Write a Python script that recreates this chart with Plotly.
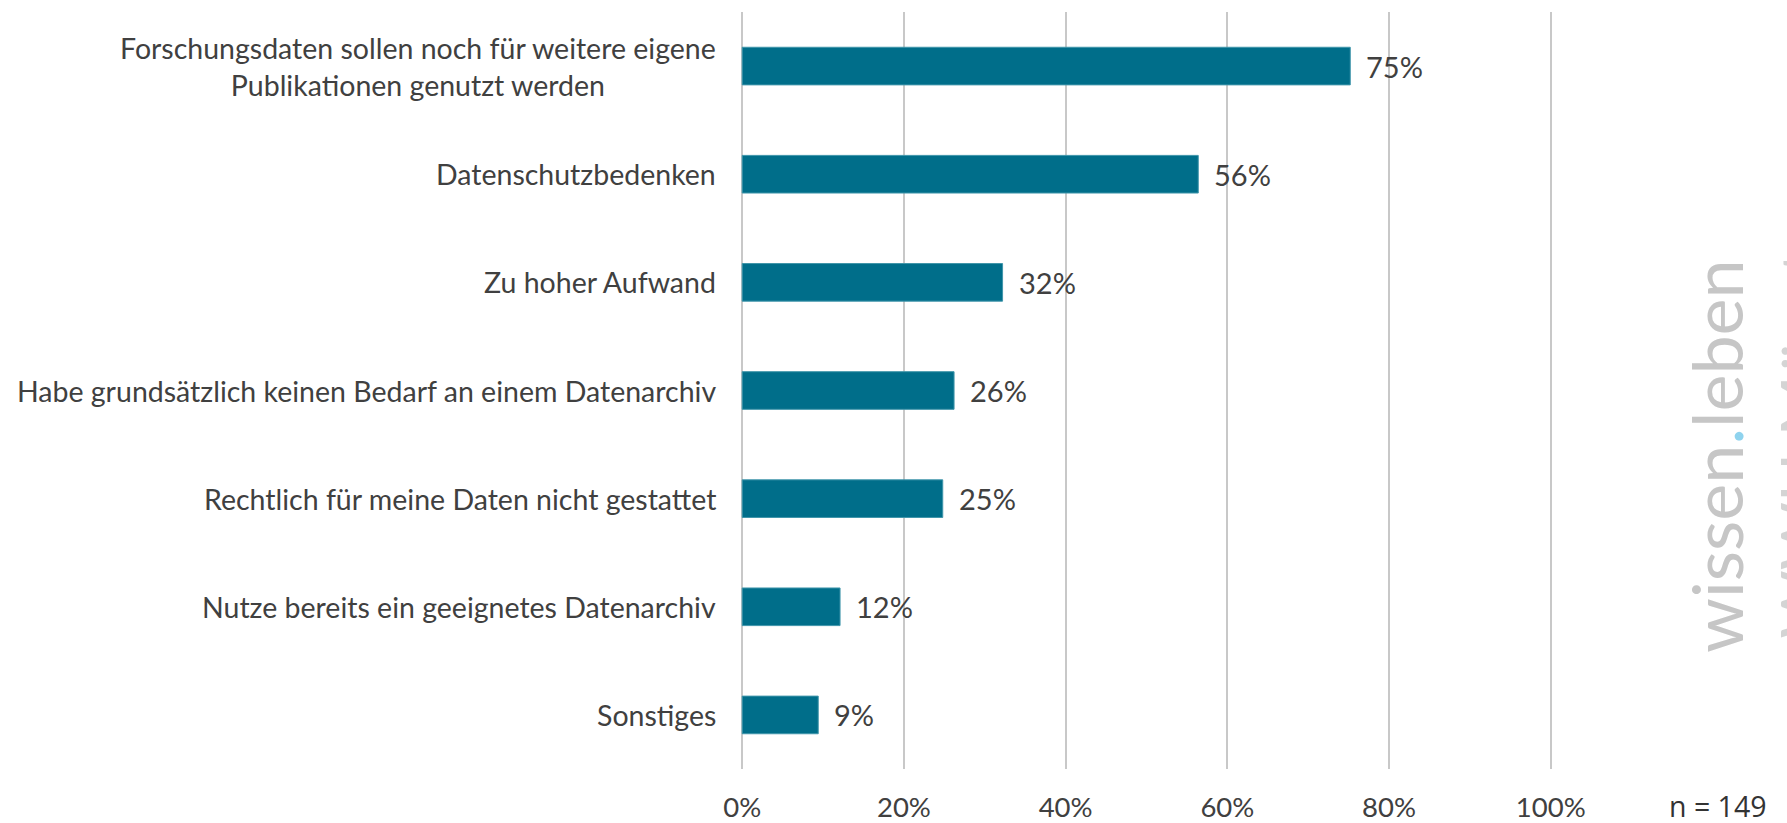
import plotly.graph_objects as go

categories = [
    "Forschungsdaten sollen noch für weitere eigene<br>Publikationen genutzt werden",
    "Datenschutzbedenken",
    "Zu hoher Aufwand",
    "Habe grundsätzlich keinen Bedarf an einem Datenarchiv",
    "Rechtlich für meine Daten nicht gestattet",
    "Nutze bereits ein geeignetes Datenarchiv",
    "Sonstiges",
]
values = [75.2, 56.4, 32.2, 26.2, 24.8, 12.1, 9.4]
value_labels = ["75%", "56%", "32%", "26%", "25%", "12%", "9%"]
tick_vals = [0, 20, 40, 60, 80, 100]
tick_text = ["0%", "20%", "40%", "60%", "80%", "100%"]
sample_note = "n = 149"

FONT = "Lato"
TXT = "#404040"
BAR = "#006e8a"
GRID = "#c8c8c8"

fig = go.Figure()
fig.add_trace(go.Bar(
    y=categories, x=values, orientation="h",
    marker=dict(color=BAR, line=dict(color="#3f95aa", width=1)),
    hoverinfo="skip",
))

annotations = []
for cat, v, lab in zip(categories, values, value_labels):
    annotations.append(dict(
        x=v, y=cat, xref="x", yref="y", text=lab, showarrow=False,
        xanchor="left", yanchor="middle", xshift=14,
        font=dict(family=FONT, size=29, color=TXT),
    ))
    annotations.append(dict(
        x=0, y=cat, xref="x", yref="y", text=cat, showarrow=False,
        xanchor="right", yanchor="middle", xshift=-24, align="center",
        font=dict(family=FONT, size=28.5, color=TXT),
    ))

annotations.append(dict(
    x=1718, y=806, xref="paper", yref="paper", text=sample_note, showarrow=False,
    xanchor="center", yanchor="middle",
    font=dict(family="Open Sans", size=28.5, color="#333333"),
))
annotations.append(dict(
    x=1716, y=456, xref="paper", yref="paper",
    text='wissen<span style="color:#8fd3ee">.</span>leben', showarrow=False,
    textangle=-90, xanchor="center", yanchor="middle",
    font=dict(family=FONT, size=70, color="#c6c6c6", weight=400),
))
annotations.append(dict(
    x=1762, y=415, xref="paper", yref="paper",
    text='WWU Münster', showarrow=False,
    textangle=-90, xanchor="left", yanchor="middle",
    font=dict(family=FONT, size=66, color="#d4d4d4", weight=400),
))

W, H = 1787, 823
L, R_, T, B = 740.8, 234.5, 12.3, 53.7
pw, ph = W - L - R_, H - T - B
for a in annotations:
    if a["xref"] == "paper":
        a["x"] = (a["x"] - L) / pw
        a["y"] = (H - B - a["y"]) / ph

fig.update_layout(
    width=W, height=H,
    margin=dict(l=L, r=R_, t=T, b=B, autoexpand=False),
    plot_bgcolor="white", paper_bgcolor="white",
    bargap=0.652,
    showlegend=False,
    annotations=annotations,
    xaxis=dict(
        range=[-0.15, 100.15], tickvals=tick_vals, ticktext=tick_text,
        showgrid=True, gridcolor=GRID, gridwidth=2,
        zeroline=True, zerolinecolor=GRID, zerolinewidth=2,
        showline=False, ticks="", ticklabelstandoff=19,
        tickfont=dict(family=FONT, size=27.5, color=TXT),
    ),
    yaxis=dict(
        autorange="reversed", showticklabels=False, showgrid=False,
        zeroline=False, showline=False, ticks="",
    ),
)

fig.write_html(
    "out.html",
    config={"displayModeBar": False},
    post_script="document.body.style.margin='0';document.body.style.overflow='hidden';",
)
